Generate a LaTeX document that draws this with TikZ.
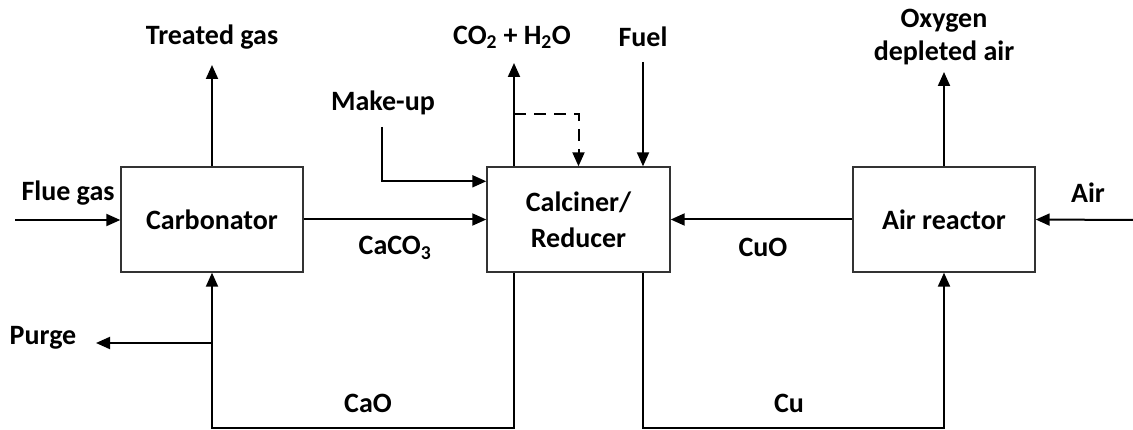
\documentclass[tikz,border=0pt]{standalone}
\usepackage{fontspec}
\setmainfont{Carlito}
\usetikzlibrary{arrows.meta}
\begin{document}
\begin{tikzpicture}[x=1pt,y=-1pt,
  font=\fontsize{28}{33}\selectfont\bfseries,
  unit/.style={draw=black!80,line width=1.4pt,minimum width=182pt,minimum height=105pt,inner sep=0pt,align=center},
  flow/.style={draw=black,line width=2pt,-{Triangle[length=14pt,width=12pt]}},
  lbl/.style={inner sep=0pt,align=center}]
\useasboundingbox (0,0) rectangle (1133,430);
% units
\node[unit] (carb) at (212,219.5) {Carbonator};
\node[unit,minimum width=183pt] (calc) at (578.5,219.5) {Calciner/\\[3pt]Reducer};
\node[unit] (air) at (944,219.5) {Air reactor};
% free ends
\coordinate (fgin) at (15,220);
\coordinate (tgtop) at (212,65);
\coordinate (co2top) at (514,63);
\coordinate (dj) at (514,114);
\coordinate (fueltop) at (643,62);
\coordinate (mu) at (382,127);
\coordinate (airin) at (1133,220);
\coordinate (odtop) at (944,72);
\coordinate (bot) at (0,428);
\coordinate (purge) at (96,343);
% labels
\node[lbl] (lflue) at (68,193) {Flue gas};
\node[lbl] (ltg) at (212,37) {Treated gas};
\node[lbl] (lco2) at (512,37) {CO\textsubscript{2} + H\textsubscript{2}O};
\node[lbl] (lfuel) at (643,37) {Fuel};
\node[lbl] (lmu) at (383,103) {Make-up};
\node[lbl] (lod) at (944,37) {Oxygen\\depleted air};
\node[lbl] (lair) at (1088,193) {Air};
\node[lbl] (lpurge) at (43,338) {Purge};
\node[lbl] (lcaco3) at (395,248) {CaCO\textsubscript{3}};
\node[lbl] (lcao) at (368,403) {CaO};
\node[lbl] (lcuo) at (763,247) {CuO};
\node[lbl] (lcu) at (789,403) {Cu};
% connectors
\draw[flow] (fgin) -- (fgin -| carb.west);
\draw[flow] (carb.north) -- (tgtop);
\draw[flow] (carb.east) -- (calc.west);
\draw[flow] (co2top |- calc.north) -- (co2top);
\draw[flow,dashed,dash pattern=on 12pt off 8pt] (dj) -| (calc.north);
\draw[flow] (fueltop) -- (fueltop |- calc.north);
\draw[flow] (mu) |- ([yshift=-15pt]calc.north west);
\draw[flow] (air.west) -- (calc.east);
\draw[flow] (airin) -- (air.east);
\draw[flow] (air.north) -- (odtop);
\draw[flow] (co2top |- calc.south) -- (co2top |- bot) -| (carb.south);
\draw[flow] (carb.south |- purge) -- (purge);
\draw[flow] (fueltop |- calc.south) -- (fueltop |- bot) -| (air.south);
\end{tikzpicture}
\end{document}
